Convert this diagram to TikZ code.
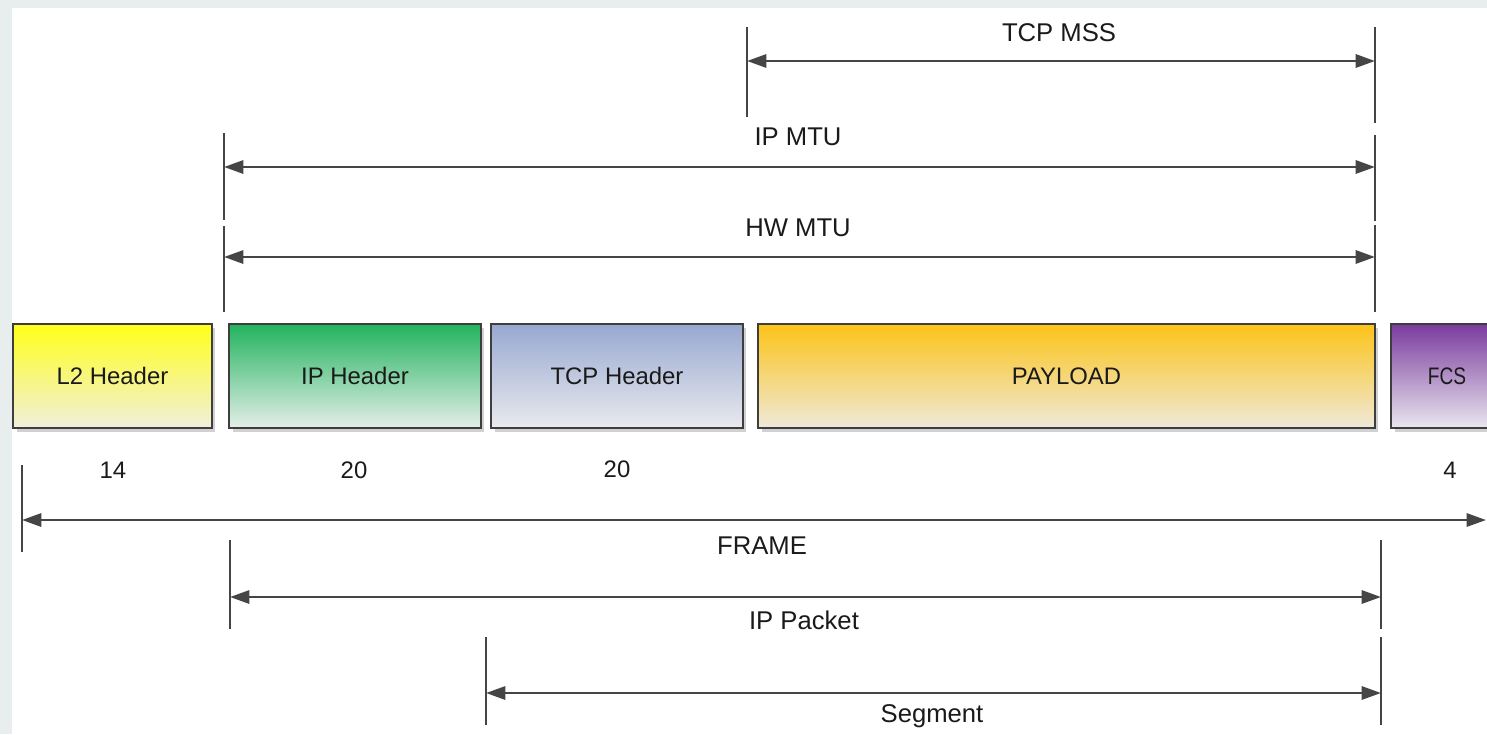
\documentclass[tikz,border=0pt]{standalone}
\usepackage{fontspec}
\setmainfont{Liberation Sans}
\usetikzlibrary{arrows.meta,shadows}
\definecolor{bggray}{HTML}{E8EDED}
\definecolor{linec}{HTML}{454545}
\definecolor{boxline}{HTML}{3E3E3E}
\definecolor{txtc}{HTML}{1A1A1A}
\definecolor{ltop}{HTML}{FFFF1A}\definecolor{lbot}{HTML}{F0EFDC}
\definecolor{itop}{HTML}{22B35E}\definecolor{ibot}{HTML}{E4EFE9}
\definecolor{ttop}{HTML}{97A8D0}\definecolor{tbot}{HTML}{EAEAEE}
\definecolor{ptop}{HTML}{FCC317}\definecolor{pbot}{HTML}{EFE9DA}
\definecolor{ftop}{HTML}{7A3C9E}\definecolor{fbot}{HTML}{EAE6EF}
\tikzset{
  fieldbox/.style={draw=boxline, line width=1.2pt, minimum height=2.08cm, inner sep=0pt,
    font=\fontsize{13.6}{16}\selectfont, text=txtc,
    drop shadow={shadow xshift=2pt, shadow yshift=-2pt, opacity=0.18, fill=black}},
  dimline/.style={draw=linec, line width=1.45pt,
    {Triangle[length=11pt,width=7.5pt]}-{Triangle[length=11pt,width=7.5pt]}},
  ticklne/.style={draw=linec, line width=1.45pt},
  dimlabel/.style={font=\fontsize{14.6}{17}\selectfont, text=txtc, inner sep=0pt},
  numlabel/.style={font=\fontsize{13.6}{16}\selectfont, text=txtc, inner sep=0pt}
}
\begin{document}
\begin{tikzpicture}[x=0.02cm,y=-0.02cm]
\useasboundingbox (0,0) rectangle (1487,734);
\clip (0,0) rectangle (1487,734);
\fill[bggray] (0,0) rectangle (1487,734);
\fill[white] (12,8) rectangle (1487,734);

% field boxes
\node[fieldbox, minimum width=3.98cm, top color=ltop, bottom color=lbot] (l2) at (112.5,376) {L2 Header};
\node[fieldbox, minimum width=5.04cm, top color=itop, bottom color=ibot] (iph) at (355,376) {IP Header};
\node[fieldbox, minimum width=5.04cm, top color=ttop, bottom color=tbot] (tcph) at (617,376) {TCP Header};
\node[fieldbox, minimum width=12.34cm, top color=ptop, bottom color=pbot] (pay) at (1066.5,376) {PAYLOAD};
\node[fieldbox, minimum width=2.24cm, top color=ftop, bottom color=fbot] (fcs) at (1447,376) {\scalebox{0.8}[1]{FCS}};

% sizes
\node[numlabel] (n14) at (113,470) {14};
\node[numlabel] (n20a) at (354,470) {20};
\node[numlabel] (n20b) at (617,469) {20};
\node[numlabel] (n4) at (1450,470) {4};

% TCP MSS
\coordinate (mssLt) at (747,27); \coordinate (mssLb) at (747,117);
\coordinate (mssRt) at (1375,27); \coordinate (mssRb) at (1375,123);
\coordinate (mssL) at (747,61); \coordinate (mssR) at (1375,61);
\draw[ticklne] (mssLt) -- (mssLb);
\draw[ticklne] (mssRt) -- (mssRb);
\draw[dimline] (mssL) -- (mssR);
\node[dimlabel] (mss) at (1059,33) {TCP MSS};

% IP MTU
\coordinate (ipmLt) at (224,133); \coordinate (ipmLb) at (224,220);
\coordinate (ipmRt) at (1375,135); \coordinate (ipmRb) at (1375,221);
\coordinate (ipmL) at (224,167); \coordinate (ipmR) at (1375,167);
\draw[ticklne] (ipmLt) -- (ipmLb);
\draw[ticklne] (ipmRt) -- (ipmRb);
\draw[dimline] (ipmL) -- (ipmR);
\node[dimlabel] (ipmtu) at (798,137) {IP MTU};

% HW MTU
\coordinate (hwLt) at (224,226); \coordinate (hwLb) at (224,312);
\coordinate (hwRt) at (1375,225); \coordinate (hwRb) at (1375,312);
\coordinate (hwL) at (224,257); \coordinate (hwR) at (1375,257);
\draw[ticklne] (hwLt) -- (hwLb);
\draw[ticklne] (hwRt) -- (hwRb);
\draw[dimline] (hwL) -- (hwR);
\node[dimlabel] (hwmtu) at (798,228) {HW MTU};

% FRAME
\coordinate (frLt) at (22,465); \coordinate (frLb) at (22,552);
\coordinate (frL) at (22,520); \coordinate (frR) at (1486,520);
\draw[ticklne] (frLt) -- (frLb);
\draw[dimline] (frL) -- (frR);
\node[dimlabel] (frame) at (762,546) {FRAME};

% IP Packet
\coordinate (pkLt) at (230,540); \coordinate (pkLb) at (230,629);
\coordinate (pkRt) at (1381,540); \coordinate (pkRb) at (1381,629);
\coordinate (pkL) at (230,597); \coordinate (pkR) at (1381,597);
\draw[ticklne] (pkLt) -- (pkLb);
\draw[ticklne] (pkRt) -- (pkRb);
\draw[dimline] (pkL) -- (pkR);
\node[dimlabel] (ippkt) at (804,620) {IP Packet};

% Segment
\coordinate (sgLt) at (486,637); \coordinate (sgLb) at (486,725);
\coordinate (sgRt) at (1381,637); \coordinate (sgRb) at (1381,725);
\coordinate (sgL) at (486,693); \coordinate (sgR) at (1381,693);
\draw[ticklne] (sgLt) -- (sgLb);
\draw[ticklne] (sgRt) -- (sgRb);
\draw[dimline] (sgL) -- (sgR);
\node[dimlabel] (seg) at (932,716) {Segment};
\end{tikzpicture}
\end{document}
